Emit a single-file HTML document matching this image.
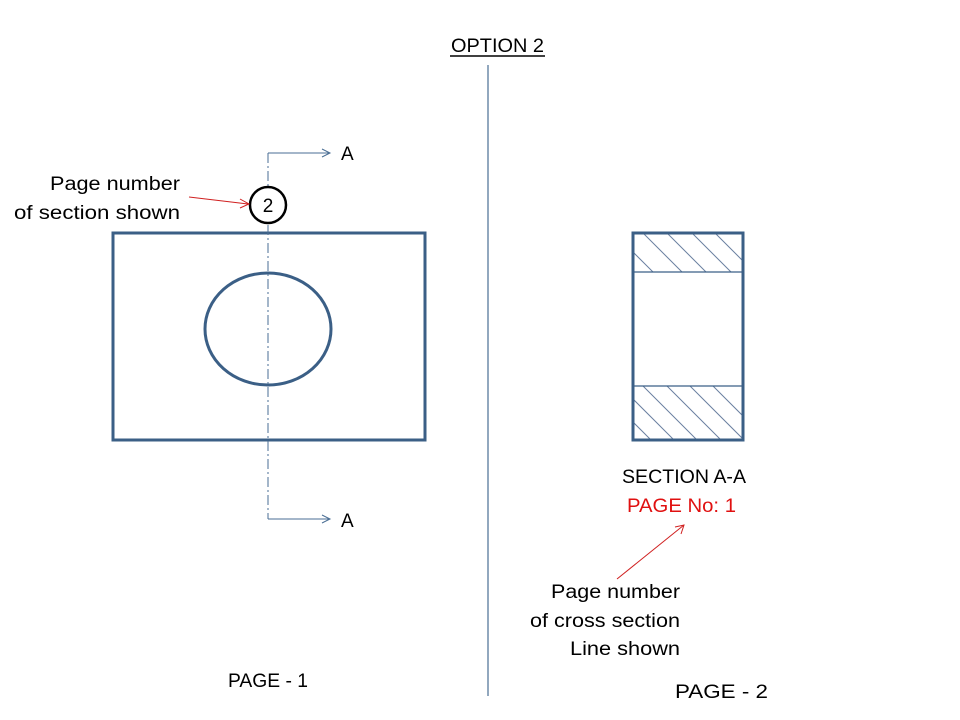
<!DOCTYPE html>
<html><head><meta charset="utf-8"><style>
html,body{margin:0;padding:0;background:#fff;}
svg{display:block;}
text{font-family:"Liberation Sans",sans-serif;font-size:19px;fill:#000;}
</style></head><body>
<svg width="960" height="720" viewBox="0 0 960 720">
<defs>
<clipPath id="ct"><rect x="633" y="233" width="110" height="39"/></clipPath>
<clipPath id="cb"><rect x="633" y="386" width="110" height="54"/></clipPath>
</defs>
<text x="451" y="52" textLength="93" lengthAdjust="spacingAndGlyphs">OPTION 2</text>
<line x1="450" y1="56" x2="545" y2="56" stroke="#000" stroke-width="1.5"/>
<line x1="488" y1="65" x2="488" y2="696" stroke="#4a6e94" stroke-width="1.2"/>

<rect x="113" y="233" width="312" height="207" fill="none" stroke="#3b5f86" stroke-width="3"/>
<ellipse cx="268" cy="329" rx="63" ry="56" fill="none" stroke="#3b5f86" stroke-width="3"/>
<line x1="268" y1="153" x2="268" y2="519" stroke="#4a6e94" stroke-width="1" stroke-dasharray="10,3,2,3"/>
<polyline points="268,153 330,153" fill="none" stroke="#4a6e94" stroke-width="1"/>
<polyline points="322,149 330,153 322,157" fill="none" stroke="#4a6e94" stroke-width="1"/>
<polyline points="268,519 330,519" fill="none" stroke="#4a6e94" stroke-width="1"/>
<polyline points="322,515 330,519 322,523" fill="none" stroke="#4a6e94" stroke-width="1"/>
<text x="341" y="160">A</text>
<text x="341" y="527">A</text>
<circle cx="268" cy="205" r="18" fill="#fff" stroke="#000" stroke-width="2.5"/>
<text x="268" y="212" text-anchor="middle">2</text>
<line x1="189" y1="197" x2="248" y2="204" stroke="#d02020" stroke-width="1"/>
<polyline points="240,199 249,204 240,208" fill="none" stroke="#d02020" stroke-width="1"/>
<text x="50" y="190" textLength="130" lengthAdjust="spacingAndGlyphs">Page number</text>
<text x="14" y="219" textLength="166" lengthAdjust="spacingAndGlyphs">of section shown</text>
<text x="228" y="687" textLength="80" lengthAdjust="spacingAndGlyphs">PAGE - 1</text>

<g clip-path="url(#ct)" stroke="#6a7fa0" stroke-width="1">
<line x1="590" y1="233" x2="629" y2="272"/><line x1="614" y1="233" x2="653" y2="272"/>
<line x1="643" y1="233" x2="682" y2="272"/><line x1="667" y1="233" x2="706" y2="272"/>
<line x1="692" y1="233" x2="731" y2="272"/><line x1="715" y1="233" x2="754" y2="272"/>
</g>
<g clip-path="url(#cb)" stroke="#6a7fa0" stroke-width="1">
<line x1="597" y1="386" x2="651" y2="440"/><line x1="620" y1="386" x2="674" y2="440"/>
<line x1="643" y1="386" x2="697" y2="440"/><line x1="667" y1="386" x2="721" y2="440"/>
<line x1="690" y1="386" x2="744" y2="440"/><line x1="713" y1="386" x2="767" y2="440"/>
</g>
<line x1="633" y1="272" x2="743" y2="272" stroke="#3b5f86" stroke-width="1.2"/>
<line x1="633" y1="386" x2="743" y2="386" stroke="#3b5f86" stroke-width="1.2"/>
<rect x="633" y="233" width="110" height="207" fill="none" stroke="#3b5f86" stroke-width="3"/>
<text x="622" y="483" textLength="124" lengthAdjust="spacingAndGlyphs">SECTION A-A</text>
<text x="627" y="512" textLength="109" lengthAdjust="spacingAndGlyphs" style="fill:#e01010">PAGE No: 1</text>
<line x1="617" y1="579" x2="684" y2="525" stroke="#d02020" stroke-width="1"/>
<polyline points="675,527 684,525 681,534" fill="none" stroke="#d02020" stroke-width="1"/>
<text x="551" y="598" textLength="129" lengthAdjust="spacingAndGlyphs">Page number</text>
<text x="530" y="627" textLength="150" lengthAdjust="spacingAndGlyphs">of cross section</text>
<text x="570" y="655" textLength="110" lengthAdjust="spacingAndGlyphs">Line shown</text>
<text x="675" y="698" textLength="93" lengthAdjust="spacingAndGlyphs">PAGE - 2</text>
</svg>
</body></html>
